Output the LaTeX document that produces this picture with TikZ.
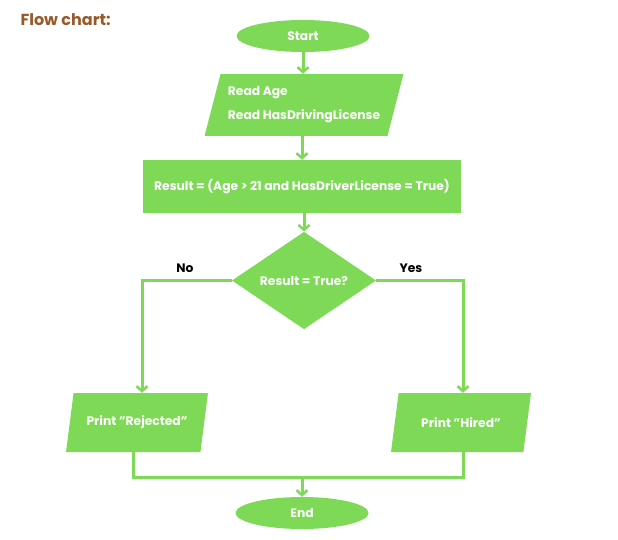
\documentclass[tikz,border=0pt]{standalone}
\usepackage{fontspec}
\setmainfont{Poppins}
\usetikzlibrary{shapes.geometric,arrows.meta}
\definecolor{boxgreen}{HTML}{7ED957}
\definecolor{titlebrown}{HTML}{985A2A}
\begin{document}
\begin{tikzpicture}[x=1pt,y=-1pt,
  every node/.style={font=\fontsize{12.3}{15}\selectfont\bfseries},
  terminal/.style={ellipse,fill=boxgreen,text=white,minimum width=133pt,minimum height=32pt,inner sep=0pt},
  iobox/.style={trapezium,trapezium left angle=70,trapezium right angle=110,trapezium stretches=true,fill=boxgreen,text=white,inner sep=2pt},
  procbox/.style={rectangle,fill=boxgreen,text=white,minimum width=318pt,minimum height=53pt,inner sep=0pt},
  testbox/.style={diamond,fill=boxgreen,text=white,minimum width=144pt,minimum height=95pt,inner sep=0pt},
  wire/.style={draw=boxgreen,line width=3pt},
  flow/.style={wire,-{Straight Barb[length=5pt,width=11pt,line width=2.5pt]}},
  branch/.style={text=black}]

\useasboundingbox (0,0) rectangle (618,540);

\node[anchor=west,text=titlebrown,font=\fontsize{16}{18}\selectfont\bfseries] (title) at (17,20) {Flow chart:};

\node[terminal] (start) at (303,36) {Start};
\node[iobox,minimum width=199pt,minimum height=62pt,align=left,text depth=4pt] (read) at (304,105) {Read Age\\[9pt]Read HasDrivingLicense};
\node[procbox] (calc) at (302,186.5) {Result = (Age > 21 and HasDriverLicense = True)};
\node[testbox] (test) at (304,280.5) {Result = True?};
\node[iobox,minimum width=142pt,minimum height=59pt] (rej) at (137,422.5) {Print \symbol{34}Rejected\symbol{34}};
\node[iobox,minimum width=141pt,minimum height=59pt] (hired) at (461,422.5) {Print \symbol{34}Hired\symbol{34}};
\node[terminal] (end) at (302,513) {End};

\node[branch] (no) at (185,268) {No};
\node[branch] (yes) at (411,268) {Yes};

\coordinate (join) at (302,477);

\draw[flow] (start) -- (start |- read.north);
\draw[flow] (read.south -| calc) -- (calc.north);
\draw[flow] (calc.south -| test) -- (test.north);
\draw[flow] (test.west) -| ([xshift=5pt]rej.north);
\draw[flow] (test.east) -| ([xshift=2pt]hired.north);
\draw[wire] ([xshift=-4pt]rej.south) |- (join) -| ([xshift=2pt]hired.south);
\draw[flow] (join) -- (end);

\end{tikzpicture}
\end{document}
